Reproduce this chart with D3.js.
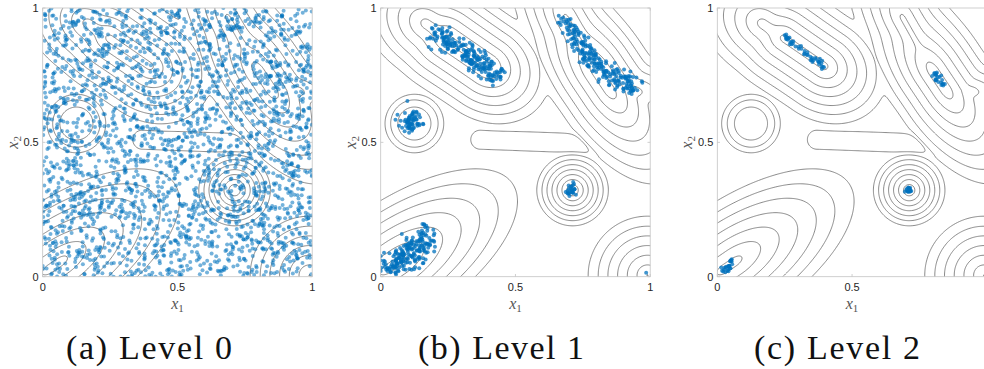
<!DOCTYPE html>
<html><head><meta charset="utf-8">
<script src="https://cdn.jsdelivr.net/npm/d3@7"></script>
<style>body{margin:0;background:#fff} svg{display:block}</style>
</head><body>
<svg id="chart" width="984" height="369"></svg>
<script>
// ---------------- data ----------------
const panelLabels = ["(a) Level 0", "(b) Level 1", "(c) Level 2"];
const tickValues = [0, 0.5, 1];
const tickLabels = ["0", "0.5", "1"];
const contourLevels = [1, 2, 3, 4, 5, 6, 7, 8];

// landscape components: segment start/end, level spacing along / across, level at segment, profile power
const compNames  = ["A", "A0", "E1", "E2", "E3", "F", "B", "C", "D"];
const compStart  = [[0.25,0.885],[0.17,0.94],[0.69,0.96],[0.803,0.763],[0.86,0.70],[0.029,0.031],[0.125,0.57],[0.712,0.322],[0.99,0.005]];
const compEnd    = [[0.395,0.785],[0.25,0.885],[0.78,0.80],[0.847,0.697],[0.94,0.69],[0.061,0.053],[0.125,0.57],[0.712,0.322],[0.99,0.005]];
const compAlong  = [0.038, 0.045, 0.06, 0.06, 0.05, 0.08, 0.063, 0.0185, 0.036];
const compAcross = [0.031, 0.035, 0.03, 0.029, 0.028, 0.035, 0.063, 0.0185, 0.036];
const compOffset = [0.57, 1.5, 1.7, 0.33, 2.4, 0.55, 4.05, -0.135, 0.92];
const compPower  = [1, 1, 1, 1, 1, 1, 2, 1, 1];
const plateauLevel = 7.5;
// valley ("finger") between the upper ridges and the lower modes
const valleyStart = [0.37, 0.51], valleyEnd = [1.05, 0.485], valleyWidth = 0.055, valleyDepth = 1.5;
const smoothing = 0.25;

// sample clouds: Level 0 is uniform over the square
const level0Count = 2600;
// Level 1 clouds: centre-line start, end, spread across (sd), count
const level1Start  = [[0.19,0.92],[0.68,0.965],[0.78,0.80],[0.115,0.575],[0.705,0.325],[0.02,0.02],[0.985,0.015]];
const level1End    = [[0.44,0.74],[0.78,0.80],[0.95,0.70],[0.115,0.575],[0.705,0.325],[0.19,0.16],[0.985,0.015]];
const level1Spread = [0.022, 0.018, 0.02, 0.022, 0.013, 0.026, 0.0];
const level1Count  = [210, 100, 120, 65, 25, 200, 1];
// Level 2 clouds
const level2Start  = [[0.245,0.895],[0.80,0.76],[0.712,0.322],[0.02,0.02]];
const level2End    = [[0.40,0.78],[0.84,0.705],[0.712,0.322],[0.065,0.06]];
const level2Spread = [0.006, 0.008, 0.006, 0.006];
const level2Count  = [45, 22, 18, 25];

// ---------------- layout ----------------
const panelLeft = [42.7, 380.7, 717.3];
const plotSize = 269.5;
const plotTop = 8, plotBottom = 276.7;
const captionX = [149, 501, 837];
const W = 984;

const svg = d3.select("#chart");
const sansFont = "'Liberation Sans', Arial, Helvetica, sans-serif";
const serifFont = "'Liberation Serif', 'Times New Roman', serif";

// ---------------- field ----------------
function segDist(p0, p1, x, y) {
  const dx = x - p0[0], dy = y - p0[1];
  const L = Math.hypot(p1[0]-p0[0], p1[1]-p0[1]);
  let ax = 1, ay = 0;
  if (L > 0) { ax = (p1[0]-p0[0])/L; ay = (p1[1]-p0[1])/L; }
  const u = dx*ax + dy*ay;
  const v = -dx*ay + dy*ax;
  const uo = u < 0 ? -u : (u > L ? u - L : 0);
  return [uo, v];
}
function compValue(i, x, y) {
  const [uo, v] = segDist(compStart[i], compEnd[i], x, y);
  const d = Math.sqrt(Math.pow(uo/compAlong[i], 2) + Math.pow(v/compAcross[i], 2));
  return compOffset[i] + Math.pow(d, compPower[i]);
}
function smoothstep(t) { return t <= 0 ? 0 : t >= 1 ? 1 : t*t*(3 - 2*t); }
function field(x, y) {
  let s = Math.exp(-plateauLevel/smoothing);
  for (let i = 0; i < compNames.length; i++) s += Math.exp(-compValue(i, x, y)/smoothing);
  const base = -smoothing*Math.log(s);
  const [vu, vv] = segDist(valleyStart, valleyEnd, x, y);
  const q = 1 - Math.pow(Math.hypot(vu, vv)/valleyWidth, 2);
  const bump = q > 0 ? q*q : 0;
  return base + valleyDepth*bump*smoothstep((base - 6.6)/0.8);
}
const g0 = -0.05, gStep = 0.004, gN = Math.round(1.1/gStep) + 1;
const values = new Float64Array(gN*gN);
for (let j = 0; j < gN; j++) for (let i = 0; i < gN; i++) values[j*gN+i] = field(g0 + i*gStep, g0 + j*gStep);
const contours = d3.contours().size([gN, gN]).thresholds(contourLevels)(values);

// ---------------- samples ----------------
const rng = d3.randomLcg(0.1234);
const rnorm = d3.randomNormal.source(rng)(0, 1);
const runif = d3.randomUniform.source(rng)(0, 1);
function cloud(starts, ends, spreads, counts) {
  const pts = [];
  starts.forEach((p0, k) => {
    const p1 = ends[k];
    const dx = p1[0]-p0[0], dy = p1[1]-p0[1];
    const L = Math.hypot(dx, dy);
    for (let n = 0; n < counts[k]; n++) {
      let px, py;
      if (L > 0) {
        const t = runif(), a = rnorm()*spreads[k], b = rnorm()*spreads[k]*0.4;
        px = p0[0] + t*dx + (-dy/L)*a + (dx/L)*b;
        py = p0[1] + t*dy + (dx/L)*a + (dy/L)*b;
      } else {
        px = p0[0] + rnorm()*spreads[k];
        py = p0[1] + rnorm()*spreads[k];
      }
      if (px >= 0 && px <= 1 && py >= 0 && py <= 1) pts.push([px, py]);
    }
  });
  return pts;
}
const level0Pts = d3.range(level0Count).map(() => [runif(), runif()]);
const level1Pts = cloud(level1Start, level1End, level1Spread, level1Count);
const level2Pts = cloud(level2Start, level2End, level2Spread, level2Count);
const panelPts = [level0Pts, level1Pts, level2Pts];

// ---------------- drawing ----------------
const defs = svg.append("defs");
const axisGray = "#c4c4c4";
panelLeft.forEach((left, p) => {
  const sx = d3.scaleLinear().domain([0, 1]).range([left, left + plotSize]);
  const sy = d3.scaleLinear().domain([0, 1]).range([plotBottom, plotTop]);
  defs.append("clipPath").attr("id", "clip"+p).append("rect")
    .attr("x", left).attr("y", plotTop).attr("width", plotSize).attr("height", plotBottom - plotTop);
  const g = svg.append("g");
  const inner = g.append("g").attr("clip-path", `url(#clip${p})`);
  const proj = d3.geoTransform({ point(x, y) {
    this.stream.point(sx(g0 + (x-0.5)*gStep), sy(g0 + (y-0.5)*gStep));
  }});
  const path = d3.geoPath(proj);
  inner.selectAll("path.c").data(contours).join("path").attr("class","c")
    .attr("d", path).attr("fill", "none").attr("stroke", "#636363").attr("stroke-width", 0.75);
  inner.selectAll("circle").data(panelPts[p]).join("circle")
    .attr("cx", d => sx(d[0])).attr("cy", d => sy(d[1])).attr("r", 2)
    .attr("fill", "#0072BD").attr("fill-opacity", p === 0 ? 0.55 : 0.75);

  // box
  g.append("rect").attr("x", left).attr("y", plotTop).attr("width", plotSize).attr("height", plotBottom - plotTop)
    .attr("fill", "none").attr("stroke", axisGray).attr("stroke-width", 0.8);
  // ticks inward
  tickValues.forEach((v, k) => {
    g.append("line").attr("x1", sx(v)).attr("x2", sx(v)).attr("y1", plotBottom).attr("y2", plotBottom - 2.7).attr("stroke", axisGray).attr("stroke-width", 0.8);
    g.append("line").attr("x1", sx(v)).attr("x2", sx(v)).attr("y1", plotTop).attr("y2", plotTop + 2.7).attr("stroke", axisGray).attr("stroke-width", 0.8);
    g.append("line").attr("y1", sy(v)).attr("y2", sy(v)).attr("x1", left).attr("x2", left + 2.7).attr("stroke", axisGray).attr("stroke-width", 0.8);
    g.append("line").attr("y1", sy(v)).attr("y2", sy(v)).attr("x1", left + plotSize).attr("x2", left + plotSize - 2.7).attr("stroke", axisGray).attr("stroke-width", 0.8);
    if (sx(v) + 4 < W) {
      g.append("text").attr("x", sx(v)).attr("y", plotBottom + 14).attr("text-anchor", "middle")
        .attr("font-family", sansFont).attr("font-size", 11).attr("fill", "#262626").text(tickLabels[k]);
    }
    g.append("text").attr("x", left - 4).attr("y", sy(v) + 4).attr("text-anchor", "end")
      .attr("font-family", sansFont).attr("font-size", 11).attr("fill", "#262626").text(tickLabels[k]);
  });
  // axis labels
  const xl = g.append("text").attr("x", sx(0.5)).attr("y", 309).attr("text-anchor", "middle")
    .attr("font-family", serifFont).attr("font-style", "italic").attr("font-size", 16).attr("fill", "#555");
  xl.append("tspan").text("x");
  xl.append("tspan").attr("font-size", 11).attr("font-style", "normal").attr("dy", 3).text("1");
  const yl = g.append("text").attr("transform", `translate(${left - 25},${sy(0.5)}) rotate(-90)`).attr("text-anchor", "middle")
    .attr("font-family", serifFont).attr("font-style", "italic").attr("font-size", 16).attr("fill", "#555");
  yl.append("tspan").text("x");
  yl.append("tspan").attr("font-size", 11).attr("font-style", "normal").attr("dy", 3).text("2");
  // caption
  svg.append("text").attr("x", captionX[p]).attr("y", 359).attr("text-anchor", "middle")
    .attr("font-family", serifFont).attr("font-size", 34).attr("fill", "#111")
    .attr("textLength", 166).attr("lengthAdjust", "spacing").text(panelLabels[p]);
});
</script>
</body></html>
